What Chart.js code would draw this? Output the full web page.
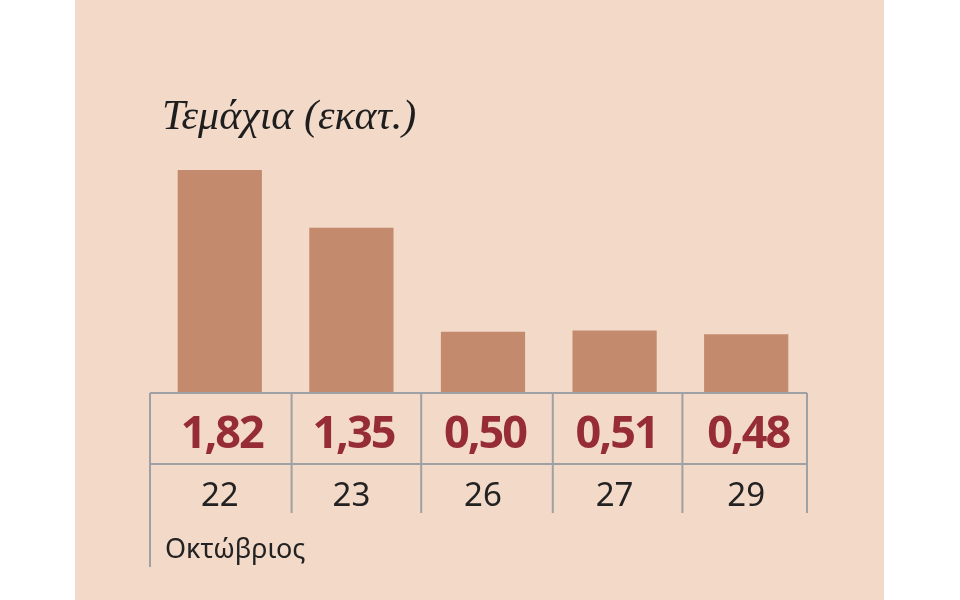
<!DOCTYPE html>
<html>
<head>
<meta charset="utf-8">
<script src="https://cdn.jsdelivr.net/npm/chart.js@4/dist/chart.umd.min.js"></script>
<style>
  html, body { margin: 0; padding: 0; background: #ffffff; }
  #wrap { width: 960px; height: 600px; position: relative; }
</style>
</head>
<body>
<div id="wrap"><canvas id="barChart" width="960" height="600"></canvas></div>
<script>
// Chart data
const dates = ['22', '23', '26', '27', '29'];
const units = [1.82, 1.35, 0.50, 0.51, 0.48];
const titleText = 'Τεμάχια (εκατ.)';
const monthText = 'Οκτώβριος';

const PANEL = '#f2d9c8';
const BAR = '#c48a6e';
const VALUE_RED = '#962c35';
const LINE = '#9ea0a3';

/**
 * Panel background + title
 */
const backdropPlugin = {
  id: 'backdrop',
  beforeDraw(chart) {
    const ctx = chart.ctx;
    ctx.save();
    ctx.fillStyle = PANEL;
    ctx.fillRect(75, 0, 809, chart.height);
    ctx.fillStyle = '#1e1e1e';
    ctx.font = 'italic 42px "Liberation Serif", serif';
    ctx.textBaseline = 'alphabetic';
    ctx.textAlign = 'left';
    ctx.fillText(titleText, 162, 129);
    ctx.restore();
  }
};

/**
 * Value/date table under the bars
 */
const tablePlugin = {
  id: 'valueTable',
  afterDraw(chart) {
    const ctx = chart.ctx;
    const x = chart.scales.x;
    const area = chart.chartArea;
    const half = (x.getPixelForValue(1) - x.getPixelForValue(0)) / 2;
    const left = x.getPixelForValue(0) - half - 4;
    const right = x.getPixelForValue(dates.length - 1) + half - 5;
    const top = area.bottom;
    const mid = top + 71;
    const bottom = top + 120;

    ctx.save();
    ctx.strokeStyle = LINE;
    ctx.lineWidth = 2;
    ctx.beginPath();
    ctx.moveTo(left, top); ctx.lineTo(right, top);
    ctx.moveTo(left, mid); ctx.lineTo(right, mid);
    ctx.moveTo(left, top); ctx.lineTo(left, top + 174);
    for (let i = 1; i < dates.length; i++) {
      const bx = x.getPixelForValue(i) - half + 4 + (i === 1 ? 2 : 0) - (i === 4 ? 2 : 0);
      ctx.moveTo(bx, top); ctx.lineTo(bx, bottom);
    }
    ctx.moveTo(right, top); ctx.lineTo(right, bottom);
    ctx.stroke();

    ctx.textAlign = 'center';
    ctx.textBaseline = 'middle';
    units.forEach((v, i) => {
      const cx = x.getPixelForValue(i);
      ctx.fillStyle = VALUE_RED;
      ctx.font = 'bold 45px "Open Sans", sans-serif';
      ctx.letterSpacing = '-2px';
      ctx.fillText(v.toFixed(2).replace('.', ','), cx + 2, top + 42);
      ctx.letterSpacing = '0px';
      ctx.fillStyle = '#222222';
      ctx.font = '33px "Noto Sans", sans-serif';
      ctx.fillText(dates[i], cx, top + 104);
    });

    ctx.textAlign = 'left';
    ctx.font = '27px "Noto Sans", sans-serif';
    ctx.fillText(monthText, left + 15, top + 157);
    ctx.restore();
  }
};

const chart = new Chart(document.getElementById('barChart').getContext('2d'), {
  type: 'bar',
  data: {
    labels: dates,
    datasets: [{
      data: units,
      backgroundColor: BAR,
      borderWidth: 0,
      categoryPercentage: 1,
      barPercentage: 0.64
    }]
  },
  options: {
    responsive: false,
    animation: false,
    layout: { padding: { left: 154, right: 148, top: 148, bottom: 207 } },
    plugins: {
      legend: { display: false },
      tooltip: { enabled: false }
    },
    scales: {
      x: { display: false },
      y: { display: false, min: 0, max: 2 }
    }
  },
  plugins: [backdropPlugin, tablePlugin]
});
</script>
</body>
</html>
